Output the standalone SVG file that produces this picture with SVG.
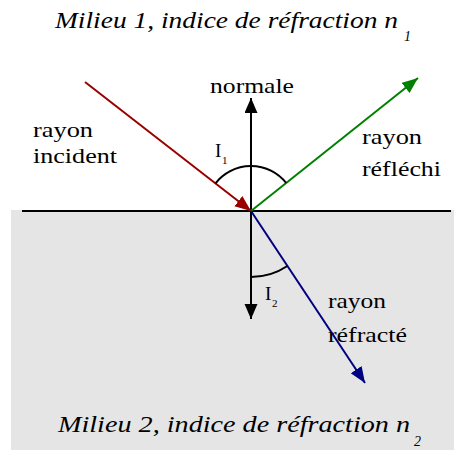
<svg xmlns="http://www.w3.org/2000/svg" width="454" height="450" viewBox="0 0 454 450">
<style>
text{font-family:'Liberation Serif','Times New Roman',Times,serif;fill:#000}
.lbl{font-size:22px}
.ttl{font-size:23px;font-style:italic}
.sub{font-size:14px}
.ray{stroke-width:2;fill:none}
.arc{stroke:#000;stroke-width:2;fill:none}
</style>
<defs>
<marker id="aK" markerUnits="userSpaceOnUse" markerWidth="16" markerHeight="14" refX="15" refY="6.5" orient="auto-start-reverse"><path d="M0,0 L15,6.5 L0,13 z" fill="#000"/></marker>
<marker id="aR" markerUnits="userSpaceOnUse" markerWidth="18" markerHeight="14" refX="16" refY="6.5" orient="auto"><path d="M0,0 L16,6.5 L0,13 z" fill="#990000"/></marker>
<marker id="aG" markerUnits="userSpaceOnUse" markerWidth="18" markerHeight="14" refX="16" refY="6.5" orient="auto"><path d="M0,0 L16,6.5 L0,13 z" fill="#008000"/></marker>
<marker id="aB" markerUnits="userSpaceOnUse" markerWidth="18" markerHeight="14" refX="16" refY="6.5" orient="auto"><path d="M0,0 L16,6.5 L0,13 z" fill="#000080"/></marker>
</defs>
<rect width="454" height="450" fill="#fff"/>
<rect id="milieu2" x="11" y="210" width="443" height="240" fill="#e5e5e5"/>
<g id="titre1"><text class="ttl" x="55" y="28" textLength="343" lengthAdjust="spacingAndGlyphs">Milieu 1, indice de réfraction n</text><text class="sub" x="404" y="41" font-style="italic">1</text></g>
<g id="titre2"><text class="ttl" x="58" y="432" textLength="352" lengthAdjust="spacingAndGlyphs">Milieu 2, indice de réfraction n</text><text class="sub" x="414" y="446" font-style="italic">2</text></g>
<g id="connectors">
<line id="interface" x1="22" y1="211" x2="451" y2="211" stroke="#000" stroke-width="2"/>
<line id="normale-line" x1="251" y1="98" x2="251" y2="319" stroke="#000" stroke-width="2" marker-start="url(#aK)" marker-end="url(#aK)"/>
<line id="incident" class="ray" x1="85" y1="82" x2="251" y2="211" stroke="#990000" marker-end="url(#aR)"/>
<line id="reflechi" class="ray" x1="251" y1="211" x2="418" y2="78" stroke="#008000" marker-end="url(#aG)"/>
<line id="refracte" class="ray" x1="251" y1="211" x2="365" y2="383" stroke="#000080" marker-end="url(#aB)"/>
<path id="arcI1" class="arc" d="M215.5,183.3 A45,45 0 0 1 286.2,183"/>
<path id="arcI2" class="arc" d="M251,277 A66,66 0 0 0 287.4,266"/>
</g>
<g id="n-normale"><text class="lbl" x="210" y="93" textLength="84" lengthAdjust="spacingAndGlyphs">normale</text></g>
<g id="n-incident"><text class="lbl" x="33" y="137" textLength="60" lengthAdjust="spacingAndGlyphs">rayon</text><text class="lbl" x="33" y="163" textLength="84" lengthAdjust="spacingAndGlyphs">incident</text></g>
<g id="n-reflechi"><text class="lbl" x="362" y="144" textLength="60" lengthAdjust="spacingAndGlyphs">rayon</text><text class="lbl" x="362" y="176" textLength="79" lengthAdjust="spacingAndGlyphs">réfléchi</text></g>
<g id="n-refracte"><text class="lbl" x="328" y="308" textLength="58" lengthAdjust="spacingAndGlyphs">rayon</text><text class="lbl" x="328" y="342" textLength="79" lengthAdjust="spacingAndGlyphs">réfracté</text></g>
<g id="n-I1"><text x="215" y="157" font-size="19">I</text><text x="222" y="164" font-size="11">1</text></g>
<g id="n-I2"><text x="265" y="300" font-size="19">I</text><text x="272" y="307" font-size="11">2</text></g>
</svg>
